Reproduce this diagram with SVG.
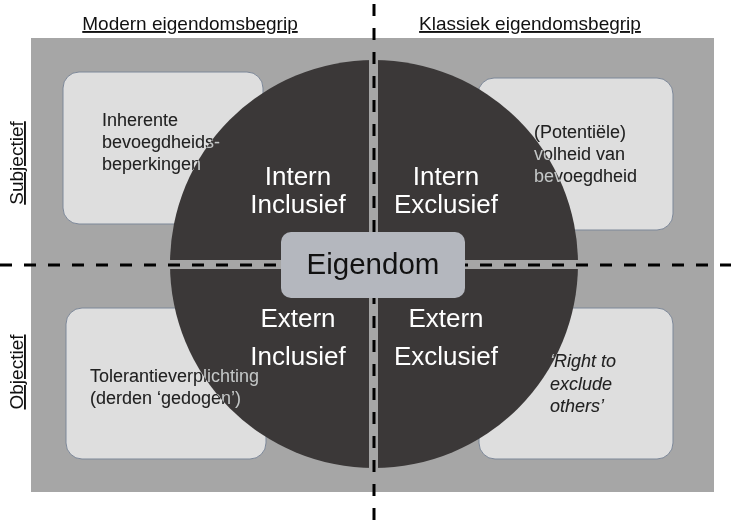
<svg xmlns="http://www.w3.org/2000/svg" width="731" height="520" viewBox="0 0 731 520">
<style>
text{font-family:"Liberation Sans",Arial,sans-serif}
.hdr{font-size:19px;fill:#111;text-decoration:underline}
.box{fill:#dedede;stroke:#7d8899;stroke-width:1}
.bt{font-size:18px;fill:#fff;mix-blend-mode:difference}
.ql{font-size:26px;fill:#fff;text-anchor:middle}
.dash{stroke:#000;stroke-width:3;stroke-dasharray:12 12;fill:none}
</style>
<rect x="31" y="38" width="683" height="454" fill="#a6a6a6"/>
<g id="header">
<text class="hdr" x="190" y="30" text-anchor="middle">Modern eigendomsbegrip</text>
<text class="hdr" x="530" y="30" text-anchor="middle">Klassiek eigendomsbegrip</text>
<text class="hdr" transform="translate(23,163) rotate(-90)" text-anchor="middle">Subjectief</text>
<text class="hdr" transform="translate(23,372) rotate(-90)" text-anchor="middle">Objectief</text>
</g>
<g id="box-tl"><rect class="box" x="63" y="72" width="200" height="152" rx="16"/></g>
<g id="box-tr"><rect class="box" x="478" y="78" width="195" height="152" rx="16"/></g>
<g id="box-bl"><rect class="box" x="66" y="308" width="200" height="151" rx="16"/></g>
<g id="box-br"><rect class="box" x="479" y="308" width="194" height="151" rx="16"/></g>
<g id="circle">
<circle cx="374" cy="264" r="204" fill="#3b3838"/>
<rect x="369" y="58" width="9" height="412" fill="#a6a6a6"/>
<rect x="168" y="260" width="412" height="9" fill="#a6a6a6"/>
</g>
<g id="connectors">
<line class="dash" x1="374" y1="4" x2="374" y2="520"/>
<line class="dash" x1="0" y1="265" x2="731" y2="265"/>
</g>
<g id="quadrant-labels">
<text class="ql" x="298" y="185">Intern</text>
<text class="ql" x="298" y="213">Inclusief</text>
<text class="ql" x="446" y="185">Intern</text>
<text class="ql" x="446" y="213">Exclusief</text>
<text class="ql" x="298" y="327">Extern</text>
<text class="ql" x="298" y="365">Inclusief</text>
<text class="ql" x="446" y="327">Extern</text>
<text class="ql" x="446" y="365">Exclusief</text>
</g>
<g id="eigendom">
<rect x="281" y="232" width="184" height="66" rx="10" fill="#b4b7be"/>
<text x="373" y="274" text-anchor="middle" font-size="29.5" fill="#111">Eigendom</text>
</g>
<g id="box-texts">
<text class="bt" x="102" y="126">Inherente</text>
<text class="bt" x="102" y="148">bevoegdheids-</text>
<text class="bt" x="102" y="170">beperkingen</text>
<text class="bt" x="534" y="138">(Potentiële)</text>
<text class="bt" x="534" y="160">volheid van</text>
<text class="bt" x="534" y="182">bevoegdheid</text>
<text class="bt" x="90" y="382">Tolerantieverplichting</text>
<text class="bt" x="90" y="404">(derden ‘gedogen’)</text>
<text class="bt" x="550" y="367" font-style="italic">‘Right to</text>
<text class="bt" x="550" y="390" font-style="italic">exclude</text>
<text class="bt" x="550" y="412" font-style="italic">others’</text>
</g>
</svg>
